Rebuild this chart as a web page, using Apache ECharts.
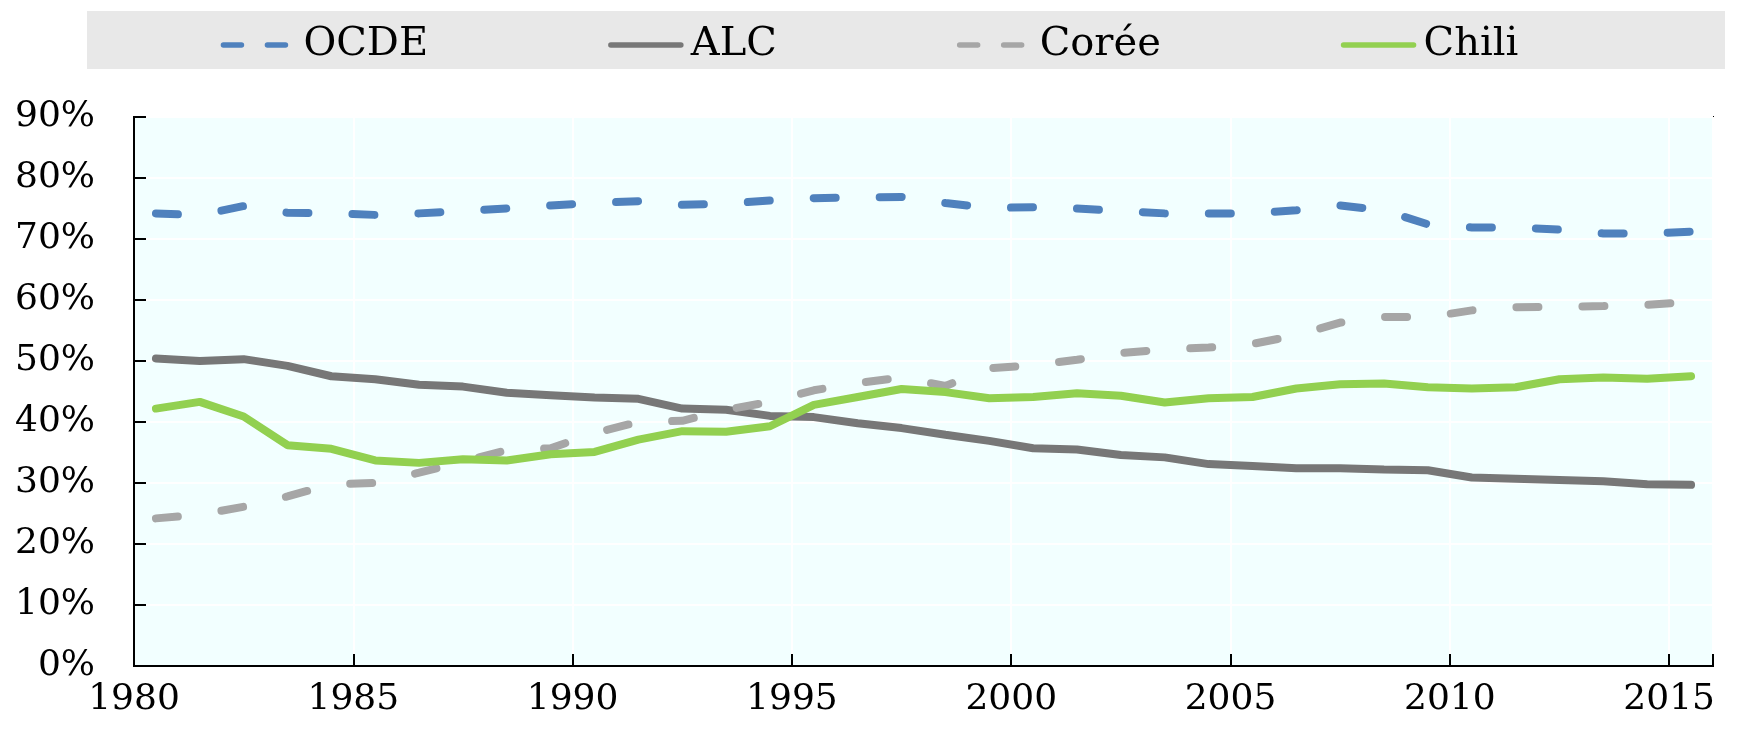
<!DOCTYPE html>
<html>
<head>
<meta charset="utf-8">
<script src="https://cdn.jsdelivr.net/npm/echarts@6/dist/echarts.min.js"></script>
<style>html,body{margin:0;padding:0;background:#fff;}#c{width:1739px;height:729px;}</style>
</head>
<body>
<div id="c"></div>
<script>
const years = [1980,1981,1982,1983,1984,1985,1986,1987,1988,1989,1990,1991,1992,1993,1994,1995,1996,1997,1998,1999,2000,2001,2002,2003,2004,2005,2006,2007,2008,2009,2010,2011,2012,2013,2014,2015];
const ocde  = [74.2,73.9,75.4,74.3,74.2,73.95,74.2,74.6,75.0,75.5,75.9,76.2,75.6,75.8,76.3,76.7,76.8,76.9,75.9,75.1,75.2,75.0,74.6,74.2,74.2,74.2,74.7,75.5,74.7,72.4,71.9,71.9,71.55,70.9,70.9,71.2];
const alc   = [50.4,50.0,50.3,49.2,47.5,47.0,46.1,45.8,44.8,44.4,44.0,43.8,42.2,42.0,41.0,40.8,39.8,39.0,37.9,36.9,35.7,35.5,34.6,34.2,33.1,32.8,32.4,32.4,32.2,32.1,30.9,30.7,30.5,30.3,29.8,29.7];
const coree = [24.2,24.8,26.1,27.8,29.8,30.0,31.7,33.5,35.4,35.7,38.2,40.0,40.2,42.0,43.3,45.2,46.4,47.3,45.9,48.8,49.3,50.2,51.3,51.9,52.2,52.8,54.2,56.3,57.2,57.2,58.3,58.8,58.9,59.0,59.2,59.7];
const chili = [42.2,43.3,40.9,36.2,35.6,33.7,33.3,33.9,33.7,34.7,35.1,37.1,38.5,38.4,39.3,42.8,44.1,45.4,44.9,43.9,44.1,44.7,44.3,43.2,43.9,44.1,45.5,46.2,46.3,45.7,45.5,45.7,47.0,47.3,47.1,47.5];
const seriesNames = ['OCDE','ALC','Corée','Chili'];

// each annual value plotted at mid-year (date axis with ticks between years)
const toPts = arr => years.map((y, i) => [y + 0.5, arr[i]]);

const chart = echarts.init(document.getElementById('c'));
const FONT = 'DejaVu Serif';
const SER_W = 8;
const SER_DASH = [22, 44];
const LEG_DASH = [18, 26];
chart.setOption({
  animation: false,
  backgroundColor: '#ffffff',
  graphic: [{
    type: 'rect', left: 87, top: 11, z: -10,
    shape: { width: 1638, height: 58 },
    style: { fill: '#E8E8E8' }
  }],
  legend: {
    data: [
      { name: seriesNames[0], lineStyle: { type: LEG_DASH } },
      { name: seriesNames[1], lineStyle: { type: 'solid' } },
      { name: seriesNames[2], lineStyle: { type: LEG_DASH } },
      { name: seriesNames[3], lineStyle: { type: 'solid' } }
    ],
    top: 20, left: 'center',
    itemWidth: 70, itemHeight: 20, itemGap: 180,
    itemStyle: { opacity: 0 },
    lineStyle: { width: 5.5, cap: 'round' },
    textStyle: { fontFamily: FONT, fontSize: 40, color: '#000', lineHeight: 40, padding: [0, 0, 0, 5] }
  },
  grid: {
    left: 134, right: 26, top: 117, bottom: 63,
    show: true, backgroundColor: '#F2FFFF', borderColor: '#000', borderWidth: 2
  },
  xAxis: {
    type: 'value', min: 1980, max: 2016, interval: 5,
    axisLine: { show: true, lineStyle: { color: '#000', width: 2 } },
    axisTick: { show: true, inside: true, length: 12, lineStyle: { color: '#000', width: 2 } },
    splitLine: { show: true, lineStyle: { color: '#ffffff', width: 2 } },
    axisLabel: {
      fontFamily: FONT, fontSize: 36, color: '#000', margin: 16,
      formatter: v => (v % 5 === 0 ? String(v) : '')
    }
  },
  yAxis: {
    type: 'value', min: 0, max: 90, interval: 10,
    axisLine: { show: true, lineStyle: { color: '#000', width: 2 } },
    axisTick: { show: true, inside: true, length: 12, lineStyle: { color: '#000', width: 2 } },
    splitLine: { show: true, lineStyle: { color: '#ffffff', width: 2 } },
    axisLabel: { fontFamily: FONT, fontSize: 36, color: '#000', margin: 39, formatter: '{value}%' }
  },
  series: [
    { name: 'OCDE', type: 'line', data: toPts(ocde), symbol: 'none', color: '#4F81BD',
      lineStyle: { width: SER_W, type: SER_DASH, cap: 'round', color: '#4F81BD' } },
    { name: 'ALC', type: 'line', data: toPts(alc), symbol: 'none', color: '#777777',
      lineStyle: { width: SER_W, color: '#777777', cap: 'round' } },
    { name: 'Corée', type: 'line', data: toPts(coree), symbol: 'none', color: '#A6A6A6',
      lineStyle: { width: SER_W, type: SER_DASH, cap: 'round', color: '#A6A6A6' } },
    { name: 'Chili', type: 'line', data: toPts(chili), symbol: 'none', color: '#92D050',
      lineStyle: { width: SER_W, color: '#92D050', cap: 'round' } }
  ]
});
</script>
</body>
</html>
